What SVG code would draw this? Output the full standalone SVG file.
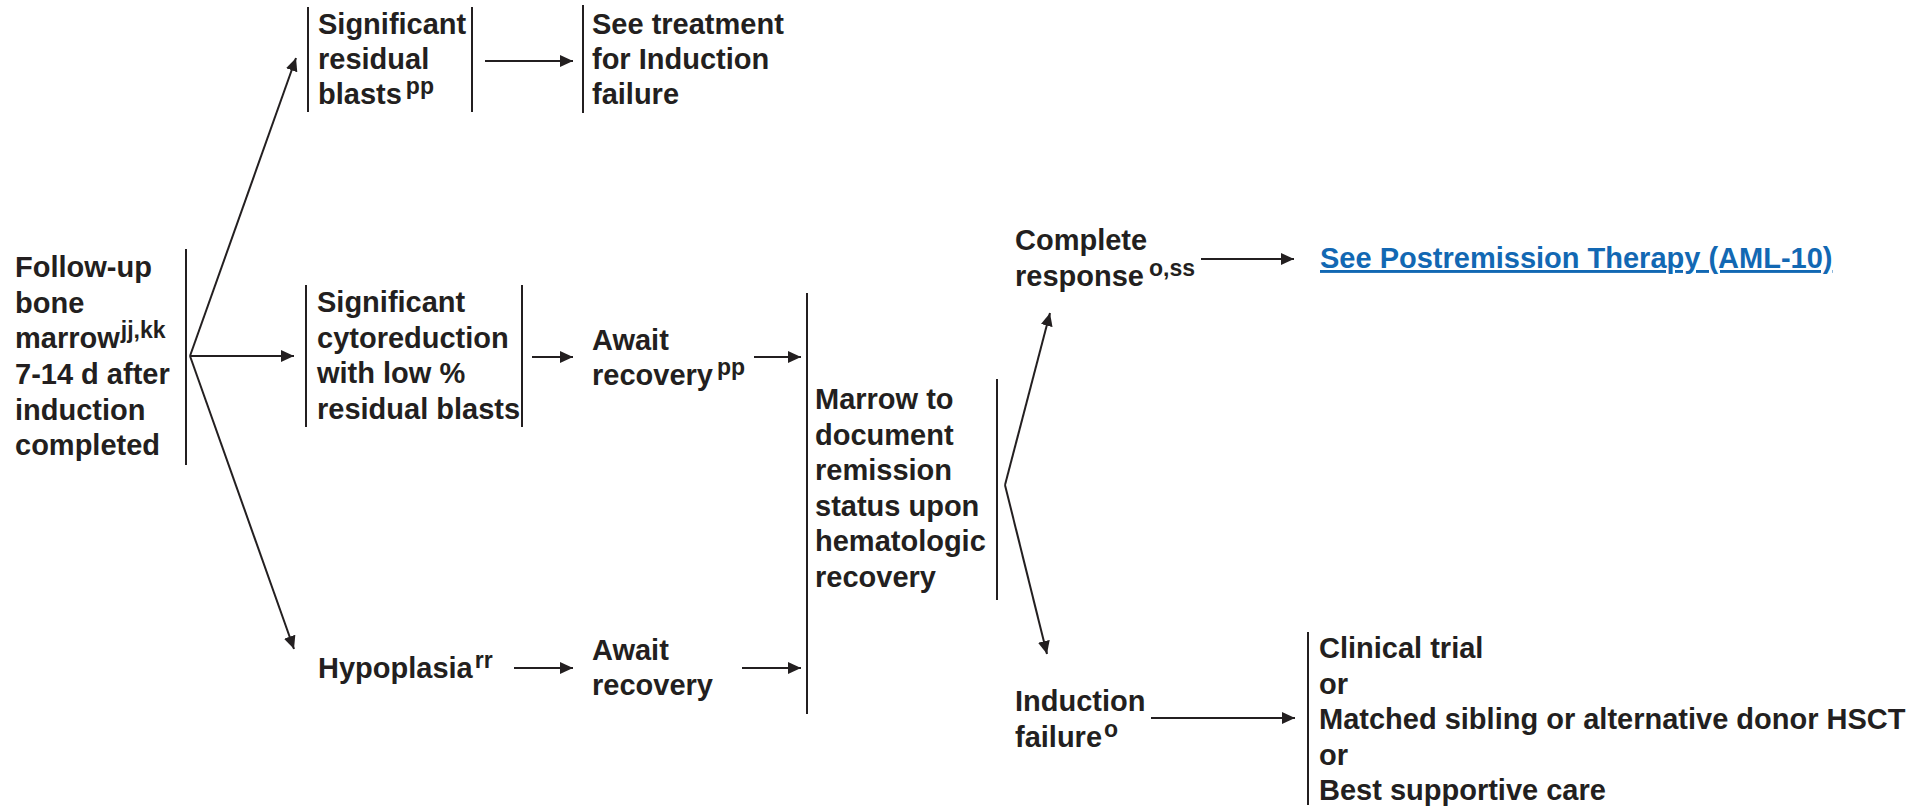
<svg xmlns="http://www.w3.org/2000/svg" width="1930" height="808" viewBox="0 0 1930 808">
  <style>
    .t { font-family: "Liberation Sans", Arial, sans-serif; font-weight: bold; font-size: 29px; fill: #231f20; }
    .sup { font-size: 23px; }
    .link { fill: #1268b3; text-decoration: underline; }
    .bar { stroke: #231f20; stroke-width: 2; fill: none; }
    .c { stroke: #231f20; stroke-width: 2; fill: none; marker-end: url(#ah); }
  </style>
  <defs>
    <marker id="ah" markerUnits="userSpaceOnUse" markerWidth="14" markerHeight="12" refX="13" refY="6" orient="auto">
      <path d="M0,0 L13,6 L0,12 z" fill="#231f20"/>
    </marker>
  </defs>
  <rect width="1930" height="808" fill="#ffffff"/>

  <g id="n-followup">
    <line class="bar" x1="186" y1="249" x2="186" y2="465"/>
    <text class="t">
      <tspan x="15" y="277">Follow-up</tspan>
      <tspan x="15" y="312.5">bone</tspan>
      <tspan x="15" y="348">marrow</tspan><tspan class="sup" dx="1" dy="-10">jj,kk</tspan>
      <tspan x="15" y="384">7-14 d after</tspan>
      <tspan x="15" y="419.5">induction</tspan>
      <tspan x="15" y="455">completed</tspan>
    </text>
  </g>

  <g id="n-residual">
    <line class="bar" x1="308" y1="7" x2="308" y2="112"/>
    <line class="bar" x1="472" y1="7" x2="472" y2="112"/>
    <text class="t">
      <tspan x="318" y="34">Significant</tspan>
      <tspan x="318" y="69">residual</tspan>
      <tspan x="318" y="104">blasts</tspan><tspan class="sup" dx="4" dy="-10">pp</tspan>
    </text>
  </g>

  <g id="n-seetreat">
    <line class="bar" x1="583" y1="5" x2="583" y2="113"/>
    <text class="t">
      <tspan x="592" y="34">See treatment</tspan>
      <tspan x="592" y="69">for Induction</tspan>
      <tspan x="592" y="104">failure</tspan>
    </text>
  </g>

  <g id="n-cytored">
    <line class="bar" x1="306" y1="285" x2="306" y2="427"/>
    <line class="bar" x1="522" y1="285" x2="522" y2="427"/>
    <text class="t">
      <tspan x="317" y="312">Significant</tspan>
      <tspan x="317" y="347.5">cytoreduction</tspan>
      <tspan x="317" y="383">with low %</tspan>
      <tspan x="317" y="418.5">residual blasts</tspan>
    </text>
  </g>

  <g id="n-await1">
    <text class="t">
      <tspan x="592" y="350">Await</tspan>
      <tspan x="592" y="385">recovery</tspan><tspan class="sup" dx="4" dy="-10">pp</tspan>
    </text>
  </g>

  <g id="n-hypoplasia">
    <text class="t"><tspan x="318" y="678">Hypoplasia</tspan><tspan class="sup" dx="2" dy="-10">rr</tspan></text>
  </g>

  <g id="n-await2">
    <text class="t">
      <tspan x="592" y="660">Await</tspan>
      <tspan x="592" y="695">recovery</tspan>
    </text>
  </g>

  <g id="n-marrow">
    <line class="bar" x1="807" y1="293" x2="807" y2="714"/>
    <line class="bar" x1="997" y1="379" x2="997" y2="600"/>
    <text class="t">
      <tspan x="815" y="409">Marrow to</tspan>
      <tspan x="815" y="444.5">document</tspan>
      <tspan x="815" y="480">remission</tspan>
      <tspan x="815" y="515.5">status upon</tspan>
      <tspan x="815" y="551">hematologic</tspan>
      <tspan x="815" y="586.5">recovery</tspan>
    </text>
  </g>

  <g id="n-complete">
    <text class="t">
      <tspan x="1015" y="250">Complete</tspan>
      <tspan x="1015" y="286">response</tspan><tspan class="sup" dx="5" dy="-10">o,ss</tspan>
    </text>
  </g>

  <g id="n-postremission">
    <text class="t link" x="1320" y="268">See Postremission Therapy (AML-10)</text>
  </g>

  <g id="n-indfail">
    <text class="t">
      <tspan x="1015" y="711">Induction</tspan>
      <tspan x="1015" y="747">failure</tspan><tspan class="sup" dx="2" dy="-10">o</tspan>
    </text>
  </g>

  <g id="n-options">
    <line class="bar" x1="1308" y1="632" x2="1308" y2="805"/>
    <text class="t">
      <tspan x="1319" y="658">Clinical trial</tspan>
      <tspan x="1319" y="693.5">or</tspan>
      <tspan x="1319" y="729">Matched sibling or alternative donor HSCT</tspan>
      <tspan x="1319" y="764.5">or</tspan>
      <tspan x="1319" y="800">Best supportive care</tspan>
    </text>
  </g>

  <g id="connectors">
    <line class="c" x1="190" y1="356" x2="296" y2="58"/>
    <line class="c" x1="190" y1="356" x2="294" y2="356"/>
    <line class="c" x1="190" y1="356" x2="294" y2="649"/>
    <line class="c" x1="485" y1="61" x2="573" y2="61"/>
    <line class="c" x1="532" y1="357" x2="573" y2="357"/>
    <line class="c" x1="754" y1="357" x2="801" y2="357"/>
    <line class="c" x1="514" y1="668" x2="573" y2="668"/>
    <line class="c" x1="742" y1="668" x2="801" y2="668"/>
    <line class="c" x1="1005" y1="485" x2="1050" y2="313"/>
    <line class="c" x1="1005" y1="485" x2="1047" y2="654"/>
    <line class="c" x1="1201" y1="259" x2="1294" y2="259"/>
    <line class="c" x1="1151" y1="718" x2="1295" y2="718"/>
  </g>
</svg>
